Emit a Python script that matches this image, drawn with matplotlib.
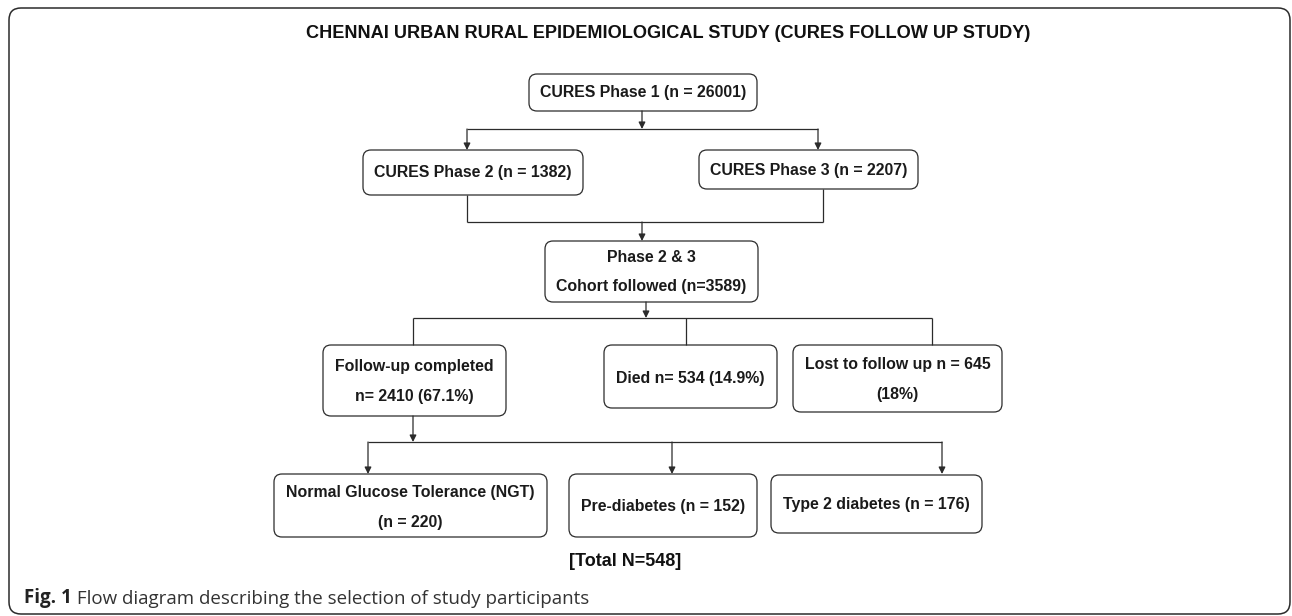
import matplotlib.pyplot as plt
from matplotlib.patches import FancyBboxPatch

# counts shown in the flow diagram
phase1_n = 26001
phase2_n = 1382
phase3_n = 2207
cohort_n = 3589
followup_n, followup_pct = 2410, 67.1
died_n, died_pct = 534, 14.9
lost_n, lost_pct = 645, 18
ngt_n = 220
prediab_n = 152
t2dm_n = 176
total_n = ngt_n + prediab_n + t2dm_n

title = "CHENNAI URBAN RURAL EPIDEMIOLOGICAL STUDY (CURES FOLLOW UP STUDY)"
caption_bold = "Fig. 1"
caption_text = " Flow diagram describing the selection of study participants"

box_labels = [
    ["CURES Phase 1 (n = %d)" % phase1_n],
    ["CURES Phase 2 (n = %d)" % phase2_n],
    ["CURES Phase 3 (n = %d)" % phase3_n],
    ["Phase 2 & 3", "Cohort followed (n=%d)" % cohort_n],
    ["Follow-up completed", "n= %d (%.1f%%)" % (followup_n, followup_pct)],
    ["Died n= %d (%.1f%%)" % (died_n, died_pct)],
    ["Lost to follow up n = %d" % lost_n, "(%d%%)" % lost_pct],
    ["Normal Glucose Tolerance (NGT)", "(n = %d)" % ngt_n],
    ["Pre-diabetes (n = %d)" % prediab_n],
    ["Type 2 diabetes (n = %d)" % t2dm_n],
]

# layout in pixels: left, right, top, bottom, text rows
boxes = [
    (529, 757, 74, 111, [93]),
    (363, 583, 150, 195, [172]),
    (699, 918, 150, 189, [170]),
    (545, 758, 241, 302, [258, 287]),
    (323, 506, 345, 416, [367, 396]),
    (604, 777, 345, 408, [378]),
    (793, 1002, 345, 412, [364, 394]),
    (274, 547, 474, 537, [492, 523]),
    (569, 757, 474, 537, [507]),
    (771, 982, 475, 533, [505]),
]

line_col = "#2b2b2b"
fig = plt.figure(figsize=(12.92, 6.16), dpi=100)
ax = fig.add_axes([0, 0, 1, 1])
ax.set_xlim(0, 1292)
ax.set_ylim(616, 0)
ax.axis("off")

# outer frame
frame = FancyBboxPatch((9, 8), 1281, 606, boxstyle="round,pad=0,rounding_size=12",
                       fc="none", ec=line_col, lw=1.1)
ax.add_patch(frame)

ax.text(668, 34, title, ha="center", va="center", fontsize=13.1, fontweight="bold",
        family="Liberation Sans", color="#111")

for (x0, x1, y0, y1, rows), labels in zip(boxes, box_labels):
    ax.add_patch(FancyBboxPatch((x0, y0), x1 - x0, y1 - y0,
                                boxstyle="round,pad=0,rounding_size=8",
                                fc="white", ec=line_col, lw=0.9))
    for y, lab in zip(rows, labels):
        ax.text((x0 + x1) / 2, y, lab, ha="center", va="center", fontsize=11.4,
                fontweight="bold", family="Liberation Sans", color="#1a1a1a")


def line(xs, ys):
    ax.plot(xs, ys, color=line_col, lw=0.9, solid_capstyle="butt")


def arrow(x, y0, y1):
    ax.annotate("", xy=(x, y1), xytext=(x, y0),
                arrowprops=dict(arrowstyle="-|>", color=line_col, lw=0.9,
                                mutation_scale=10, shrinkA=0, shrinkB=0))


# phase 1 -> phase 2 / 3
arrow(642, 111, 129)
line([467, 818], [129, 129])
arrow(467, 129, 150)
arrow(818, 129, 150)

# phase 2 / 3 -> cohort
line([467, 467], [195, 222])
line([823, 823], [189, 222])
line([467, 823], [222, 222])
arrow(642, 222, 241)

# cohort -> outcomes
arrow(646, 302, 318)
line([413, 932], [318, 318])
for x in [413, 686, 932]:
    line([x, x], [318, 345])

# follow-up -> glucose status
arrow(413, 416, 442)
line([368, 942], [442, 442])
for x in [368, 672, 942]:
    arrow(x, 442, 474)

ax.text(625, 561, "[Total N=%d]" % total_n, ha="center", va="center", fontsize=13,
        fontweight="bold", family="Liberation Sans", color="#111")

t1 = ax.text(24, 598, caption_bold, ha="left", va="center", fontsize=13.5,
             fontweight="bold", family="Open Sans", color="#222")
ax.annotate(caption_text, xy=(1, 0), xycoords=t1, ha="left", va="bottom",
            fontsize=13.5, family="Open Sans", color="#333")

fig.savefig("out.png", dpi=100)
